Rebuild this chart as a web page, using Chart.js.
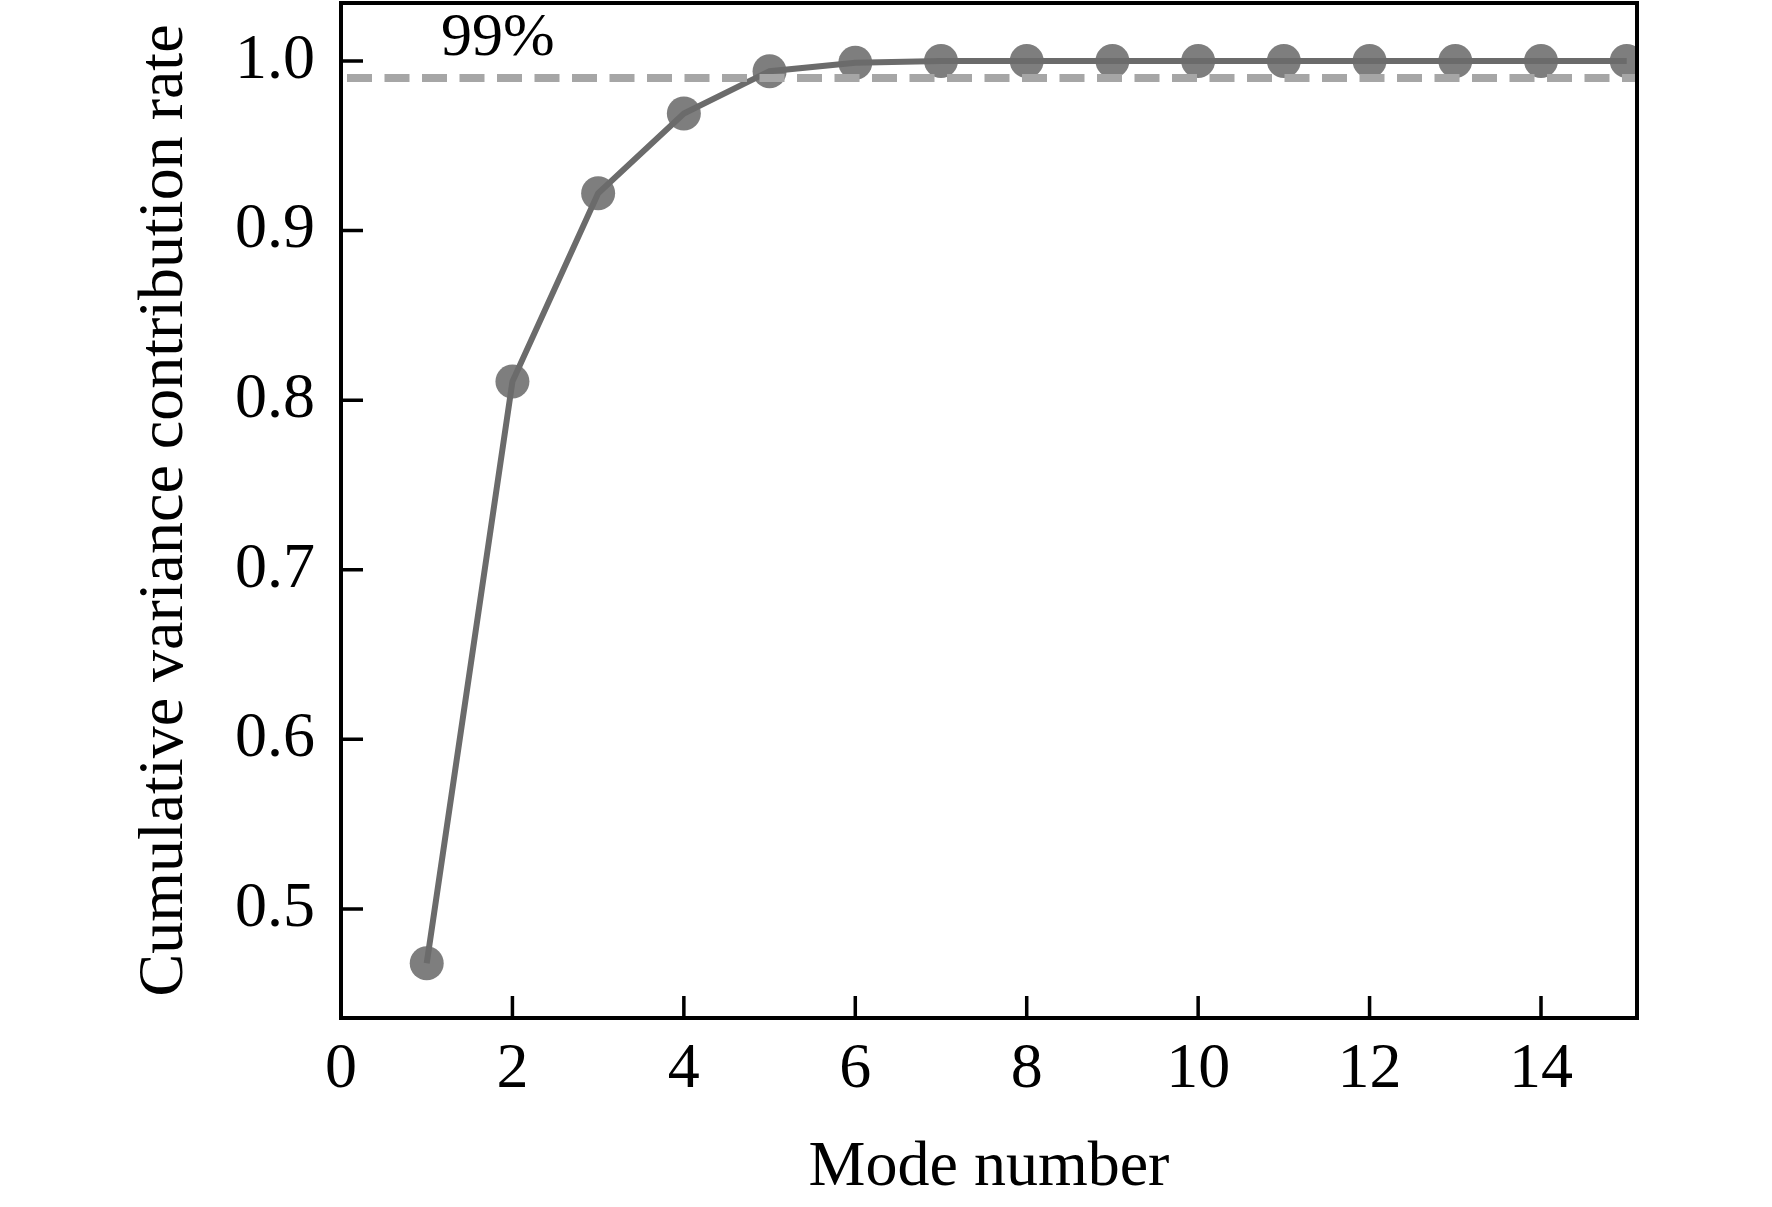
<!DOCTYPE html>
<html>
<head>
<meta charset="utf-8">
<title>Cumulative variance contribution rate</title>
<script src="https://cdn.jsdelivr.net/npm/chart.js@4.4.0/dist/chart.umd.min.js"></script>
<style>
  html, body { margin: 0; padding: 0; background: #ffffff; }
  #chart { display: block; }
</style>
</head>
<body>
<canvas id="chart" width="1772" height="1207"></canvas>
<script>
// values
const modeNumbers = [1, 2, 3, 4, 5, 6, 7, 8, 9, 10, 11, 12, 13, 14, 15];
const cumulativeRate = [0.468, 0.811, 0.922, 0.969, 0.994, 0.999, 1.0, 1.0, 1.0, 1.0, 1.0, 1.0, 1.0, 1.0, 1.0];
const thresholdX = [0.07, 15.12];
const thresholdY = [0.99, 0.99];
const xTickValues = [0, 2, 4, 6, 8, 10, 12, 14];
const yTickValues = [0.5, 0.6, 0.7, 0.8, 0.9, 1.0];
const thresholdLabel = '99%';
const thresholdLabelAt = [1.83, 1.0035];

const FONT = "'Liberation Serif', 'Times New Roman', serif";

function toPoints(xs, ys) {
    return xs.map(function (x, i) { return { x: x, y: ys[i] }; });
}

// frame, inward ticks and the 99% note
const framePlugin = {
    id: 'frame',
    afterDraw: function (chart) {
        const ctx = chart.ctx;
        const area = chart.chartArea;
        const xs = chart.scales.x;
        const ys = chart.scales.y;
        ctx.save();
        ctx.strokeStyle = '#000000';
        ctx.lineWidth = 4;
        ctx.strokeRect(area.left, area.top, area.right - area.left, area.bottom - area.top);

        ctx.lineWidth = 3.5;
        ctx.beginPath();
        xs.ticks.forEach(function (t) {
            const px = xs.getPixelForValue(t.value);
            if (px <= area.left + 2) return;
            ctx.moveTo(px, area.bottom);
            ctx.lineTo(px, area.bottom - 22);
        });
        ys.ticks.forEach(function (t) {
            const py = ys.getPixelForValue(t.value);
            ctx.moveTo(area.left, py);
            ctx.lineTo(area.left + 22, py);
        });
        ctx.stroke();

        ctx.fillStyle = '#000000';
        ctx.font = '62px ' + FONT;
        ctx.textAlign = 'center';
        ctx.textBaseline = 'alphabetic';
        ctx.fillText(thresholdLabel,
            xs.getPixelForValue(thresholdLabelAt[0]),
            ys.getPixelForValue(thresholdLabelAt[1]));
        ctx.restore();
    }
};

const ctx = document.getElementById('chart').getContext('2d');
new Chart(ctx, {
    type: 'line',
    data: {
        datasets: [
            {
                // markers underneath the line
                data: toPoints(modeNumbers, cumulativeRate),
                showLine: false,
                pointRadius: 17,
                pointBackgroundColor: '#7e7e7e',
                pointBorderWidth: 0,
                clip: 0,
                order: 3
            },
            {
                data: toPoints(modeNumbers, cumulativeRate),
                borderColor: '#6b6b6b',
                borderWidth: 6,
                pointRadius: 0,
                tension: 0,
                clip: 0,
                order: 2
            },
            {
                data: toPoints(thresholdX, thresholdY),
                borderColor: '#a6a6a6',
                borderWidth: 8,
                borderDash: [25, 12.5],
                borderCapStyle: 'butt',
                pointRadius: 0,
                clip: 0,
                order: 1
            }
        ]
    },
    options: {
        responsive: false,
        animation: false,
        devicePixelRatio: 1,
        layout: {
            autoPadding: false,
            padding: { left: 0, top: 3, right: 135, bottom: 0 }
        },
        plugins: {
            legend: { display: false },
            tooltip: { enabled: false }
        },
        scales: {
            x: {
                type: 'linear',
                min: 0,
                max: 15.12,
                grid: { display: false, drawTicks: false },
                border: { display: false },
                afterBuildTicks: function (scale) {
                    scale.ticks = xTickValues.map(function (v) { return { value: v }; });
                },
                afterFit: function (scale) {
                    scale.height = 1207 - 1018;
                    scale.paddingLeft = 0;
                    scale.paddingRight = 0;
                },
                ticks: {
                    padding: 14,
                    color: '#000000',
                    maxRotation: 0,
                    autoSkip: false,
                    font: { family: FONT, size: 64 },
                    callback: function (v) { return String(v); }
                },
                title: {
                    display: true,
                    text: 'Mode number',
                    color: '#000000',
                    font: { family: FONT, size: 64 },
                    padding: { top: 0, bottom: 0 }
                }
            },
            y: {
                type: 'linear',
                min: 0.4357,
                max: 1.0342,
                grid: { display: false, drawTicks: false },
                border: { display: false },
                afterBuildTicks: function (scale) {
                    scale.ticks = yTickValues.map(function (v) { return { value: v }; });
                },
                afterFit: function (scale) {
                    scale.width = 341;
                    scale.paddingTop = 0;
                    scale.paddingBottom = 0;
                },
                ticks: {
                    padding: 26,
                    color: '#000000',
                    autoSkip: false,
                    font: { family: FONT, size: 64 },
                    callback: function (v) { return Number(v).toFixed(1); }
                },
                title: {
                    display: true,
                    text: 'Cumulative variance contribution rate',
                    color: '#000000',
                    font: { family: FONT, size: 64 },
                    padding: { top: 127, bottom: 0 }
                }
            }
        }
    },
    plugins: [framePlugin]
});
</script>
</body>
</html>
